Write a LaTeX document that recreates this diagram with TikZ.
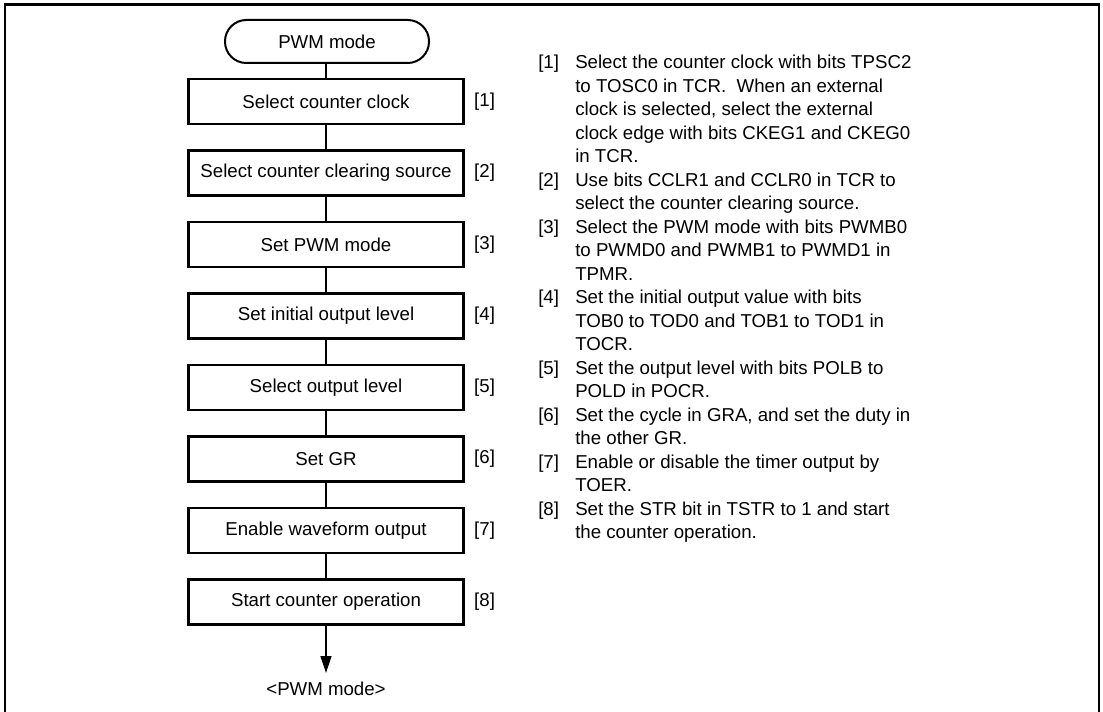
\documentclass[tikz,border=0pt]{standalone}
\usepackage{fontspec}
\setmainfont{Liberation Sans}
\usetikzlibrary{arrows.meta,positioning}
\begin{document}
\begin{tikzpicture}[x=0.75pt,y=-0.75pt,
  every node/.style={font=\fontsize{14}{17.25}\selectfont},
  notefont/.style={font=\fontsize{14}{17.625}\selectfont},
  stepbox/.style={draw,line width=1.7pt,minimum width=206.25pt,minimum height=33.75pt,inner sep=0pt},
  termbox/.style={draw,line width=1.5pt,rounded corners=16pt,minimum width=153pt,minimum height=32.25pt,inner sep=0pt},
  steplabel/.style={anchor=west,inner sep=0pt},
  conn/.style={line width=1pt}]
\useasboundingbox (0,0) rectangle (1103,712);
\draw[line width=1.9pt] (5,712) -- (5,4.5) -- (1099,4.5) -- (1099,712);

\node[termbox] (t) at (327,41.5) {PWM mode};
\node[stepbox] (b1) at (326,101.5) {Select counter clock};
\node[stepbox] (b2) at (326,173) {Select counter clearing source};
\node[stepbox] (b3) at (326,244.5) {Set PWM mode};
\node[stepbox] (b4) at (326,316) {Set initial output level};
\node[stepbox] (b5) at (326,387.5) {Select output level};
\node[stepbox] (b6) at (326,459) {Set GR};
\node[stepbox] (b7) at (326,530.5) {Enable waveform output};
\node[stepbox] (b8) at (326,602) {Start counter operation};

\foreach \i in {1,...,8}{
  \node[steplabel,right=7pt of b\i] (l\i) {[\i]};
}

\draw[conn] (b1.north) -- (b1.north |- t.south);
\draw[conn] (b1) -- (b2);
\draw[conn] (b2) -- (b3);
\draw[conn] (b3) -- (b4);
\draw[conn] (b4) -- (b5);
\draw[conn] (b5) -- (b6);
\draw[conn] (b6) -- (b7);
\draw[conn] (b7) -- (b8);
\coordinate (end) at (326,673);
\draw[conn,-{Triangle[length=12.75pt,width=8.25pt]}] (b8) -- (end);
\node (out) at (326,689) {<PWM mode>};

\node[notefont,anchor=north west,inner sep=0pt] (notes) at (538,52) {%
\begin{tabular}{@{}p{27.75pt}@{}l@{}}
{[1]} & Select the counter clock with bits TPSC2\\
 & to TOSC0 in TCR.\ \ When an external\\
 & clock is selected, select the external\\
 & clock edge with bits CKEG1 and CKEG0\\
 & in TCR.\\
{[2]} & Use bits CCLR1 and CCLR0 in TCR to\\
 & select the counter clearing source.\\
{[3]} & Select the PWM mode with bits PWMB0\\
 & to PWMD0 and PWMB1 to PWMD1 in\\
 & TPMR.\\
{[4]} & Set the initial output value with bits\\
 & TOB0 to TOD0 and TOB1 to TOD1 in\\
 & TOCR.\\
{[5]} & Set the output level with bits POLB to\\
 & POLD in POCR.\\
{[6]} & Set the cycle in GRA, and set the duty in\\
 & the other GR.\\
{[7]} & Enable or disable the timer output by\\
 & TOER.\\
{[8]} & Set the STR bit in TSTR to 1 and start\\
 & the counter operation.
\end{tabular}};
\end{tikzpicture}
\end{document}
